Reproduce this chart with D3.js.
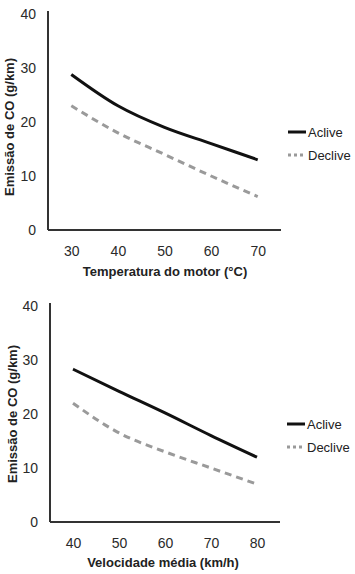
<!DOCTYPE html>
<html><head><meta charset="utf-8">
<script src="https://cdn.jsdelivr.net/npm/d3@7"></script>
<style>body{margin:0;background:#fff;}svg{display:block;}text{font-family:"Liberation Sans",Arial,sans-serif;}</style>
</head><body>
<svg id="c" width="355" height="574"></svg>
<script>
const tempCats = [30, 40, 50, 60, 70];
const tempAclive = [28.8, 23, 19, 16, 13];
const tempDeclive = [23, 18, 14, 10, 6.2];
const velCats = [40, 50, 60, 70, 80];
const velAclive = [28.3, 24.2, 20.2, 16, 12];
const velDeclive = [22, 16.5, 13, 10, 7];
const yTicks = [0, 10, 20, 30, 40];
const seriesNames = ["Aclive", "Declive"];
const yTitle = "Emissão de CO (g/km)";

const svg = d3.select("#c");

function panel(cfg) {
  const g = svg.append("g");
  const x = d3.scalePoint().domain(cfg.cats).range([cfg.x0, cfg.x1]).padding(0.5);
  const y = d3.scaleLinear().domain([0, 40]).range([cfg.yb, cfg.yt]);
  const xa = g.append("g").attr("transform", `translate(0,${cfg.yb})`)
    .call(d3.axisBottom(x).tickSize(0).tickPadding(16));
  const ya = g.append("g").attr("transform", `translate(${cfg.x0},0)`)
    .call(d3.axisLeft(y).tickValues(yTicks).tickSize(0).tickPadding(12));
  [xa, ya].forEach(a => {
    a.select(".domain").attr("stroke", "#333").attr("stroke-width", 2);
    a.selectAll("text").attr("font-size", 14).attr("fill", "#2a2a2a")
      .attr("font-family", "'Liberation Sans',Arial,sans-serif");
  });
  xa.select(".domain").attr("d", `M${cfg.x0},0H${cfg.x1}`);
  ya.select(".domain").attr("d", `M0,${y(40) - 3}V${cfg.yb}`);
  const line = d3.line().x((d, i) => x(cfg.cats[i])).y(d => y(d)).curve(d3.curveMonotoneX);
  g.append("path").datum(cfg.a).attr("d", line).attr("fill", "none")
    .attr("stroke", "#111").attr("stroke-width", 3);
  g.append("path").datum(cfg.d).attr("d", line).attr("fill", "none")
    .attr("stroke", "#9a9a9a").attr("stroke-width", 3).attr("stroke-dasharray", "7,5");
  g.append("text").attr("x", cfg.xc).attr("y", cfg.xt)
    .attr("text-anchor", "middle").attr("font-size", 13).attr("font-weight", "bold")
    .attr("fill", "#222").text(cfg.xTitle);
  g.append("text").attr("transform", `translate(${cfg.yx},${cfg.yc}) rotate(-90)`)
    .attr("text-anchor", "middle").attr("font-size", 13).attr("font-weight", "bold")
    .attr("fill", "#222").text(yTitle);
  const lg = g.append("g");
  seriesNames.forEach((n, i) => {
    const ly = cfg.ly + i * 23;
    lg.append("line").attr("x1", cfg.lx).attr("x2", cfg.lx + 18).attr("y1", ly).attr("y2", ly)
      .attr("stroke", i ? "#9a9a9a" : "#111").attr("stroke-width", 3)
      .attr("stroke-dasharray", i ? "3,3" : null);
    lg.append("text").attr("x", cfg.lx + 20).attr("y", ly + 4.5).attr("font-size", 13)
      .attr("fill", "#222").text(n);
  });
}

panel({cats: tempCats, a: tempAclive, d: tempDeclive, x0: 48, x1: 281, xx1: 279, yb: 230, yt: 14,
  xTitle: "Temperatura do motor (°C)", xc: 165, xt: 276, yx: 14, yc: 127, lx: 288, ly: 132});
panel({cats: velCats, a: velAclive, d: velDeclive, x0: 50, x1: 280, yb: 522, yt: 306,
  xTitle: "Velocidade média (km/h)", xc: 163, xt: 567, yx: 17, yc: 414, lx: 287, ly: 424});
</script>
</body></html>
